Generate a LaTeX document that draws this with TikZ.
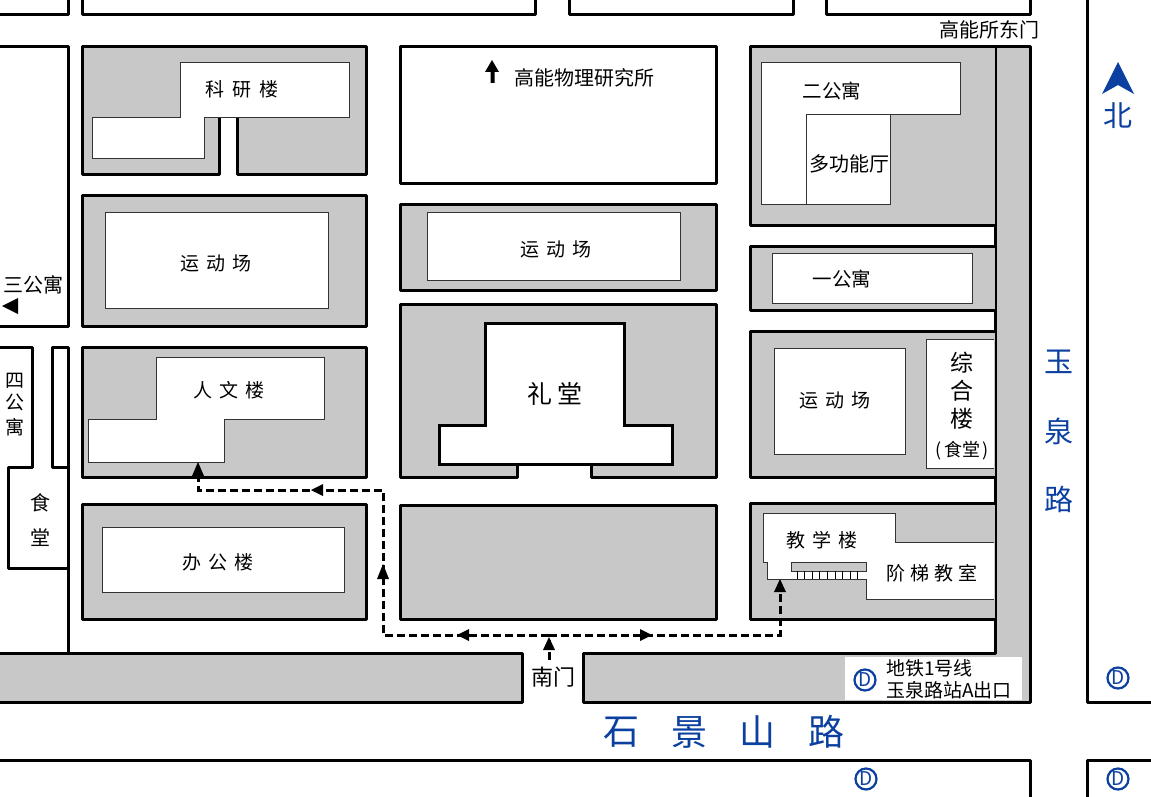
\documentclass[tikz,border=0pt]{standalone}
\usepackage{fontspec}
\setmainfont{Noto Sans CJK SC}
\definecolor{ground}{HTML}{C9C8C8}
\definecolor{roadblue}{HTML}{0B3FA0}
\newcommand{\fs}[1]{\fontsize{#1}{#1}\selectfont}
\newcommand{\gp}{\hspace{7pt}}
\tikzset{
  block/.style={draw=black,line width=3pt,line join=round,fill=white},
  yard/.style={block,fill=ground},
  bldg/.style={draw=black!80,line width=1pt,fill=white,line join=miter},
  hall/.style={draw=black,line width=3pt,fill=white,line join=miter},
  lab/.style={font=\fs{19},inner sep=0pt,text=black},
  bluelab/.style={font=\fs{29},inner sep=0pt,text=roadblue},
  subway/.style={circle,draw=roadblue,line width=2.2pt,minimum size=21pt,inner sep=0pt,text=roadblue,font=\fs{19}},
  route/.style={draw=black,line width=3pt,dash pattern=on 8pt off 4pt},
  headfill/.style={fill=black,draw=none}
}
\begin{document}
\begin{tikzpicture}[x=1pt,y=-1pt]
\clip (0,0) rectangle (1151,797);
\fill[white] (0,0) rectangle (1151,797);
% outer city blocks
\draw[block] (-5,-5) rectangle (68,15);
\draw[block] (82,-5) rectangle (535,15);
\draw[block] (569,-5) rectangle (793,15);
\draw[block] (826,-5) rectangle (1030,15);
\draw[block] (1087,-5) -- (1087,702) -- (1160,702);
\draw[block] (1087,805) -- (1087,760) -- (1160,760);
\draw[block] (-5,805) -- (-5,760) -- (1030,760) -- (1030,805);
\draw[block] (-5,47) rectangle (68,326);
% left side
\draw[block] (-5,347) -- (32,347) -- (32,467) -- (8,467) -- (8,568) -- (68,568);
\draw[block] (68,467) -- (52,467) -- (52,347) -- (68,347) -- (68,655);
% roads
\fill[ground] (995,47) -- (1030,47) -- (1030,702) -- (583,702) -- (583,653) -- (995,653) -- cycle;
\draw[block,fill=none] (995,47) -- (1030,47) -- (1030,702) -- (583,702) -- (583,653) -- (995,653) -- cycle;
\draw[yard] (-5,653) -- (522,653) -- (522,702) -- (-5,702);
% yards
\draw[yard] (219,118) -- (219,174) -- (82,174) -- (82,47) -- (366,47) -- (366,174) -- (237,174) -- (237,118);
\draw[yard] (82,195) rectangle (366,326);
\draw[yard] (82,347) rectangle (366,477);
\draw[yard] (82,504) rectangle (366,619);
\draw[block] (400,47) rectangle (716,183);
\draw[yard] (400,204) rectangle (716,290);
\draw[yard] (517,464) -- (517,477) -- (400,477) -- (400,304) -- (716,304) -- (716,477) -- (591,477) -- (591,464);
\draw[yard] (400,505) rectangle (716,619);
\draw[yard] (995,47) -- (750,47) -- (750,225) -- (995,225);
\draw[yard] (995,246) -- (750,246) -- (750,310) -- (995,310);
\draw[yard] (995,331) -- (750,331) -- (750,477) -- (995,477);
\draw[yard] (995,503) -- (750,503) -- (750,619) -- (995,619);
% buildings
\draw[bldg] (180,63) -- (349,63) -- (349,118) -- (204,118) -- (204,158) -- (92,158) -- (92,118) -- (180,118) -- cycle;
\draw[bldg] (105,212) rectangle (328,308);
\draw[bldg] (156,357) -- (324,357) -- (324,419) -- (224,419) -- (224,462) -- (88,462) -- (88,419) -- (156,419) -- cycle;
\draw[bldg] (102,527) rectangle (344,592);
\draw[bldg] (427,212) rectangle (680,280);
\draw[hall] (485,323) -- (624,323) -- (624,425) -- (672,425) -- (672,464) -- (439,464) -- (439,425) -- (485,425) -- cycle;
\draw[bldg] (761,63) -- (960,63) -- (960,115) -- (890,115) -- (890,204) -- (761,204) -- cycle;
\draw[bldg] (806,115) rectangle (890,204);
\draw[bldg] (772,253) rectangle (972,303);
\draw[bldg] (774,348) rectangle (905,454);
\draw[bldg] (994,339) -- (926,339) -- (926,468) -- (994,468);
\draw[bldg] (994,542) -- (895,542) -- (895,513) -- (763,513) -- (763,562) -- (767,562) -- (767,579) -- (866,579) -- (866,599) -- (994,599);
\draw[bldg,fill=ground] (791,562) -- (866,562) -- (866,571) -- (791,571) -- cycle;
\foreach \sx in {797,804.6,...,860}
  \draw[black,line width=0.9pt] (\sx,571) -- (\sx,579);
% white plate of the subway exit
\fill[white] (845,657) rectangle (1022,700);
% routes
\coordinate (gate) at (549,660);
\coordinate (fork) at (549,635);
\coordinate (corner1) at (383,635);
\coordinate (corner2) at (383,490);
\coordinate (corner3) at (198,490);
\coordinate (corner4) at (780,635);
\coordinate (end1) at (198,470);
\coordinate (end2) at (780,590);
\draw[route] (gate) -- (fork);
\draw[route] (fork) -- (corner1) -- (corner2) -- (corner3) -- (end1);
\draw[route] (fork) -- (corner4) -- (end2);
% arrowheads
\fill[headfill] (198,462) -- (192,476) -- (204,476) -- cycle;
\fill[headfill] (780,579) -- (774,592) -- (786,592) -- cycle;
\fill[headfill] (383,564) -- (377,579) -- (389,579) -- cycle;
\fill[headfill] (549,637) -- (543,650) -- (555,650) -- cycle;
\fill[headfill] (311,490) -- (323,484) -- (323,496) -- cycle;
\fill[headfill] (457,635) -- (469,629) -- (469,641) -- cycle;
\fill[headfill] (652,635) -- (640,629) -- (640,641) -- cycle;
% direction marks
\fill[headfill] (492,60) -- (485,72) -- (490.5,72) -- (490.5,83) -- (494.5,83) -- (494.5,72) -- (499,72) -- cycle;
\fill[headfill] (2,306) -- (18,298) -- (18,314) -- cycle;
\fill[roadblue] (1118,62) -- (1102,94) -- (1118,85) -- (1134,94) -- cycle;
% labels
\node[lab] (keyan) at (242,89) {科\hspace{8pt}研\hspace{8pt}楼};
\node[lab] (yd1) at (216,263) {运\gp 动\gp 场};
\node[lab,font=\fs{20}] (san) at (33,285) {三公寓};
\node[lab] (si1) at (15,381) {四};
\node[lab] (si2) at (15,402) {公};
\node[lab] (si3) at (15,427) {寓};
\node[lab,font=\fs{20}] (shi1) at (40,503) {食};
\node[lab,font=\fs{20}] (shi2) at (40,538) {堂};
\node[lab] (renwen) at (229,390) {人\gp 文\gp 楼};
\node[lab] (bangong) at (218,562) {办\gp 公\gp 楼};
\node[lab,font=\fs{20}] (gaoneng) at (584,78) {高能物理研究所};
\node[lab] (yd2) at (556,249) {运\gp 动\gp 场};
\node[lab,font=\fs{25}] (litang) at (555,394) {礼\hspace{5pt}堂};
\node[lab,font=\fs{22}] (nanmen) at (553,677) {南门};
\node[lab,font=\fs{19.5}] (er) at (832,91) {二公寓};
\node[lab,font=\fs{20}] (duo) at (849,164) {多功能厅};
\node[lab,font=\fs{19.5}] (yi) at (842,279) {一公寓};
\node[lab] (yd3) at (835,400) {运\gp 动\gp 场};
\node[lab,font=\fs{23}] (zong1) at (962,363) {综};
\node[lab,font=\fs{23}] (zong2) at (962,391) {合};
\node[lab,font=\fs{23}] (zong3) at (962,419) {楼};
\node[lab,font=\fs{18}] (shitang) at (962,451) {(\hspace{2pt}食堂\hspace{2pt})};
\node[lab] (jiaoxue) at (822,540) {教\gp 学\gp 楼};
\node[lab] (jieti) at (932,573) {阶\hspace{5pt}梯\hspace{5pt}教\hspace{5pt}室};
\node[lab,font=\fs{20}] (dongmen) at (989,30) {高能所东门};
\node[lab,font=\fs{19},anchor=west] (ditie) at (886,668) {地铁1号线};
\node[lab,font=\fs{19},anchor=west] (zhan) at (886,690) {玉泉路站A出口};
\node[bluelab] (yu) at (1059,362) {玉};
\node[bluelab] (quan) at (1059,431) {泉};
\node[bluelab] (lu) at (1059,499) {路};
\node[bluelab] (bei) at (1118,116) {北};
\node[bluelab,font=\fs{36}] (shi) at (621,732) {石};
\node[bluelab,font=\fs{36}] (jing) at (689,732) {景};
\node[bluelab,font=\fs{36}] (shan) at (757,732) {山};
\node[bluelab,font=\fs{36}] (lu2) at (826,732) {路};
\node[subway] (d1) at (865,680) {D};
\node[subway] (d2) at (1118,678) {D};
\node[subway] (d3) at (866,779) {D};
\node[subway] (d4) at (1118,779) {D};
\end{tikzpicture}
\end{document}
